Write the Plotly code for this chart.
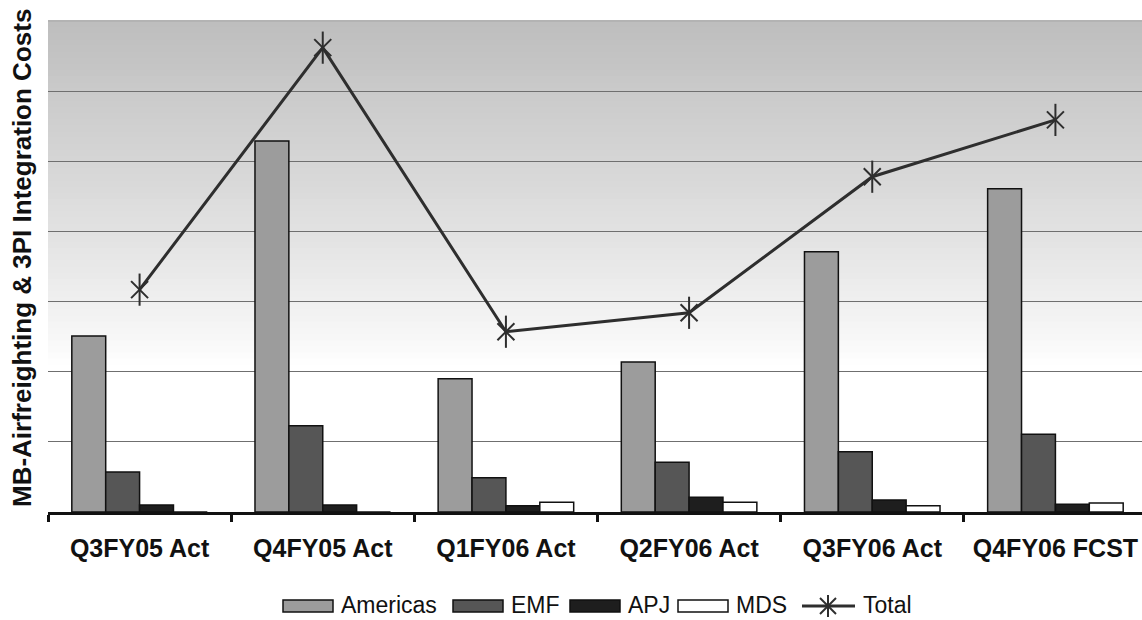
import plotly.graph_objects as go

# Quarterly cost data (units on the value axis)
quarters = ["Q3FY05 Act", "Q4FY05 Act", "Q1FY06 Act", "Q2FY06 Act", "Q3FY06 Act", "Q4FY06 FCST"]
americas = [2.51, 5.29, 1.90, 2.14, 3.71, 4.61]
emf = [0.57, 1.23, 0.49, 0.71, 0.86, 1.11]
apj = [0.10, 0.10, 0.09, 0.21, 0.17, 0.11]
mds = [0.00, 0.00, 0.14, 0.14, 0.09, 0.13]
total = [3.17, 6.62, 2.57, 2.84, 4.78, 5.59]

series_names = ["Americas", "EMF", "APJ", "MDS"]
series_values = [americas, emf, apj, mds]
series_colors = ["#9c9c9c", "#565656", "#1e1e1e", "#ffffff"]
line_color = "#2e2e2e"
FONT = "Liberation Sans, Arial"

W, H = 1142, 620
ML, MT, MB = 48, 21, 108
PW = W - ML            # plot width in px
PH = H - MT - MB       # plot height in px


def px_x(px):
    return (px - ML) / PW


def px_y(py):
    return (H - MB - py) / PH


fig = go.Figure()

for name, vals, col in zip(series_names, series_values, series_colors):
    fig.add_trace(go.Bar(
        x=quarters, y=vals, name=name,
        marker=dict(color=col, line=dict(color="#111111", width=1.5)),
        showlegend=False,
    ))

# Total line; the star marker is an X with a vertical stroke (six arms)
fig.add_trace(go.Scatter(
    x=quarters, y=total, name="Total", mode="lines+markers",
    line=dict(color=line_color, width=3),
    marker=dict(symbol="x-thin-open", size=17, color=line_color,
                line=dict(color=line_color, width=2)),
    showlegend=False,
))
fig.add_trace(go.Scatter(
    x=quarters, y=total, name="Total", mode="markers",
    marker=dict(symbol="line-ns-open", size=23, color=line_color,
                line=dict(color=line_color, width=2)),
    showlegend=False, hoverinfo="skip",
))

# Vertical grey-to-white background gradient behind the grid
shapes = []
n_bands = 80
top_val, fade_end = 190, 0.30   # fade reaches white at this fraction of the height from the bottom
for i in range(n_bands):
    y0 = i / n_bands
    y1 = (i + 1) / n_bands
    mid = (y0 + y1) / 2
    if mid <= fade_end:
        v = 255
    else:
        t = (mid - fade_end) / (1 - fade_end)
        v = int(round(255 - (255 - top_val) * t ** 0.85))
    shapes.append(dict(
        type="rect", xref="paper", yref="paper", x0=0, x1=1, y0=y0, y1=y1 + 0.002,
        fillcolor=f"rgb({v},{v},{v})", line=dict(width=0), layer="below",
    ))
# thin light frame line along the top of the plot area
shapes.append(dict(type="line", xref="paper", yref="paper", x0=0, x1=1, y0=1, y1=1,
                   line=dict(color="#a8a8a8", width=1), layer="below"))

# Custom legend: wide swatches with labels underneath the chart
legend_left = [283, 453, 570, 678]
legend_cy = 606
legend_font = dict(family=FONT, size=23, color="#111111")
annotations = []
for name, col, xl in zip(series_names, series_colors, legend_left):
    shapes.append(dict(
        type="rect", xref="paper", yref="paper",
        x0=px_x(xl), x1=px_x(xl + 50), y0=px_y(legend_cy + 6), y1=px_y(legend_cy - 6),
        fillcolor=col, line=dict(color="#111111", width=1.5),
    ))
    annotations.append(dict(
        xref="paper", yref="paper", x=px_x(xl + 57), y=px_y(H - 1),
        text=name, showarrow=False, xanchor="left", yanchor="bottom", borderpad=0,
        font=legend_font,
    ))

# Total entry: line with the six-armed star drawn from strokes
cx, cy, r = 828, legend_cy, 8
legend_strokes = [
    (802, cy, 855, cy, 3),
    (cx, cy - r - 3, cx, cy + r + 3, 2),
    (cx - r, cy - r, cx + r, cy + r, 2),
    (cx - r, cy + r, cx + r, cy - r, 2),
]
for x0, y0, x1, y1, w in legend_strokes:
    shapes.append(dict(
        type="line", xref="paper", yref="paper",
        x0=px_x(x0), x1=px_x(x1), y0=px_y(y0), y1=px_y(y1),
        line=dict(color=line_color, width=w),
    ))
annotations.append(dict(
    xref="paper", yref="paper", x=px_x(862), y=px_y(H - 1),
    text="Total", showarrow=False, xanchor="left", yanchor="bottom", borderpad=0,
    font=legend_font,
))

# Rotated value-axis title
annotations.append(dict(
    xref="paper", yref="paper", x=px_x(22), y=px_y(258),
    text="<b>MB-Airfreighting & 3PI Integration Costs</b>", showarrow=False,
    textangle=-90, xanchor="center", yanchor="middle",
    font=dict(family=FONT, size=26, color="#111111"),
))

fig.update_layout(
    width=W, height=H,
    margin=dict(l=ML, r=0, t=MT, b=MB),
    paper_bgcolor="white", plot_bgcolor="white",
    barmode="group", bargap=0.26, bargroupgap=0,
    showlegend=False,
    shapes=shapes, annotations=annotations,
    xaxis=dict(
        type="category", range=[-0.5, 5.5 - 5 / 183.2],
        showline=True, linecolor="#111111", linewidth=2.5,
        ticks="outside", tickson="boundaries", ticklen=7, tickwidth=2.5, tickcolor="#111111",
        ticklabelstandoff=12,
        tickfont=dict(family=FONT, size=25, color="#111111", weight="bold"),
        showgrid=False, fixedrange=True,
    ),
    yaxis=dict(
        range=[0, 7], dtick=1, showticklabels=False,
        showgrid=True, gridcolor="#6f6f6f", gridwidth=1,
        zeroline=False, showline=False, ticks="", fixedrange=True,
    ),
)

fig.write_html("out.html")
